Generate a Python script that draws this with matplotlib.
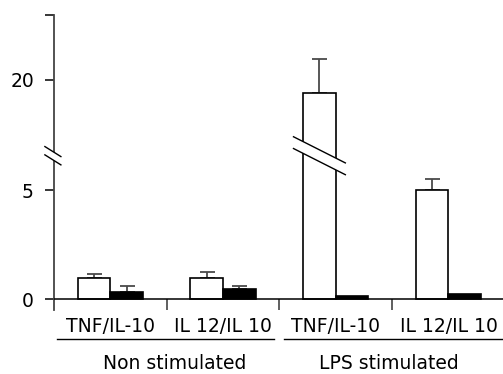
import numpy as np
import matplotlib
matplotlib.use("Agg")
import matplotlib.pyplot as plt
from matplotlib.patches import Polygon

# data
categories = ["TNF/IL-10", "IL 12/IL 10", "TNF/IL-10", "IL 12/IL 10"]
groups = ["Non stimulated", "LPS stimulated"]
white_vals = [0.98, 0.98, 19.4, 5.0]
white_err = [0.18, 0.24, 1.56, 0.53]
black_vals = [0.31, 0.46, 0.15, 0.24]
black_err = [0.27, 0.12, 0.0, 0.0]
ytick_vals = [0, 5, 20, 23]
ytick_labels = ["0", "5", "20", ""]

# broken axis: lower part 0..LOW, upper part from HIGH up, GAP units in between
LOW = 6.3
HIGH = 16.8
GAP = 0.55


def fwd(v):
    v = np.asarray(v, dtype=float)
    mid = LOW + (v - LOW) / (HIGH - LOW) * GAP
    return np.where(v <= LOW, v, np.where(v >= HIGH, v - HIGH + LOW + GAP, mid))


def inv(t):
    t = np.asarray(t, dtype=float)
    mid = LOW + (t - LOW) / GAP * (HIGH - LOW)
    return np.where(t <= LOW, t, np.where(t >= LOW + GAP, t + HIGH - LOW - GAP, mid))


plt.rcParams["font.family"] = "DejaVu Sans"
fig = plt.figure(figsize=(5.03, 3.74), dpi=100)
ax = fig.add_axes([0.1074, 0.1711, 0.8926, 0.7901])
ax.set_yscale("function", functions=(fwd, inv))

x = np.arange(len(categories))
w = 0.29
ax.bar(x - w / 2, white_vals, w, color="white", edgecolor="black", linewidth=1.2, zorder=3)
ax.bar(x + w / 2, black_vals, w, color="black", edgecolor="black", linewidth=1.2, zorder=3)
ax.errorbar(x - w / 2, white_vals, yerr=[np.zeros(4), white_err], fmt="none",
            ecolor="#4a4a4a", elinewidth=1.3, capsize=5.4, capthick=1.3, zorder=2)
be = np.array(black_err)
ax.errorbar((x + w / 2)[be > 0], np.array(black_vals)[be > 0],
            yerr=[np.zeros((be > 0).sum()), be[be > 0]], fmt="none",
            ecolor="#4a4a4a", elinewidth=1.3, capsize=5.4, capthick=1.3, zorder=2)

ax.set_xlim(-0.5, 3.484)
ax.set_ylim(-0.5, 23)
ax.axhline(0, color="black", lw=1.1, zorder=4)
ax.vlines([0.5, 1.5, 2.5], -0.5, 0, color="#444444", lw=1.2)

for s in ["top", "right", "bottom"]:
    ax.spines[s].set_visible(False)
ax.spines["left"].set_color("#444444")
ax.spines["left"].set_linewidth(1.3)

ax.set_yticks(ytick_vals)
ax.set_yticklabels(ytick_labels)
ax.set_xticks(x)
ax.set_xticklabels(categories)
ax.tick_params(axis="y", length=6.5, width=1.1, pad=8, labelsize=13.5)
ax.tick_params(axis="x", length=0, pad=5, labelsize=13.5)

# break marks, drawn in scaled coordinates
lin = ax.transLimits + ax.transAxes
c = LOW + GAP / 2


def break_mark(xc, half_w, dy, sep):
    top = [(xc - half_w, c + sep + dy), (xc + half_w, c + sep - dy)]
    bot = [(xc - half_w, c - sep + dy), (xc + half_w, c - sep - dy)]
    ax.add_patch(Polygon(top + bot[::-1], closed=True, facecolor="white",
                         edgecolor="none", transform=lin, clip_on=False, zorder=5))
    for seg in (top, bot):
        ax.plot([p[0] for p in seg], [p[1] for p in seg], color="black",
                lw=1.0, transform=lin, clip_on=False, zorder=6)


break_mark(x[2] - w / 2, 0.23, 0.6, 0.27)
break_mark(-0.5 - 0.01, 0.071, 0.23, 0.19)

# group lines and labels under the categories
trans = ax.get_xaxis_transform()
ax.plot([-0.476, 1.452], [-0.098, -0.098], color="black", lw=1.0, transform=trans, clip_on=False)
ax.plot([1.54, 3.484], [-0.098, -0.098], color="black", lw=1.0, transform=trans, clip_on=False)
ax.text(0.57, -0.181, groups[0], transform=trans, ha="center", va="center", fontsize=13.5)
ax.text(2.47, -0.181, groups[1], transform=trans, ha="center", va="center", fontsize=13.5)

fig.savefig("out.png", dpi=100)
